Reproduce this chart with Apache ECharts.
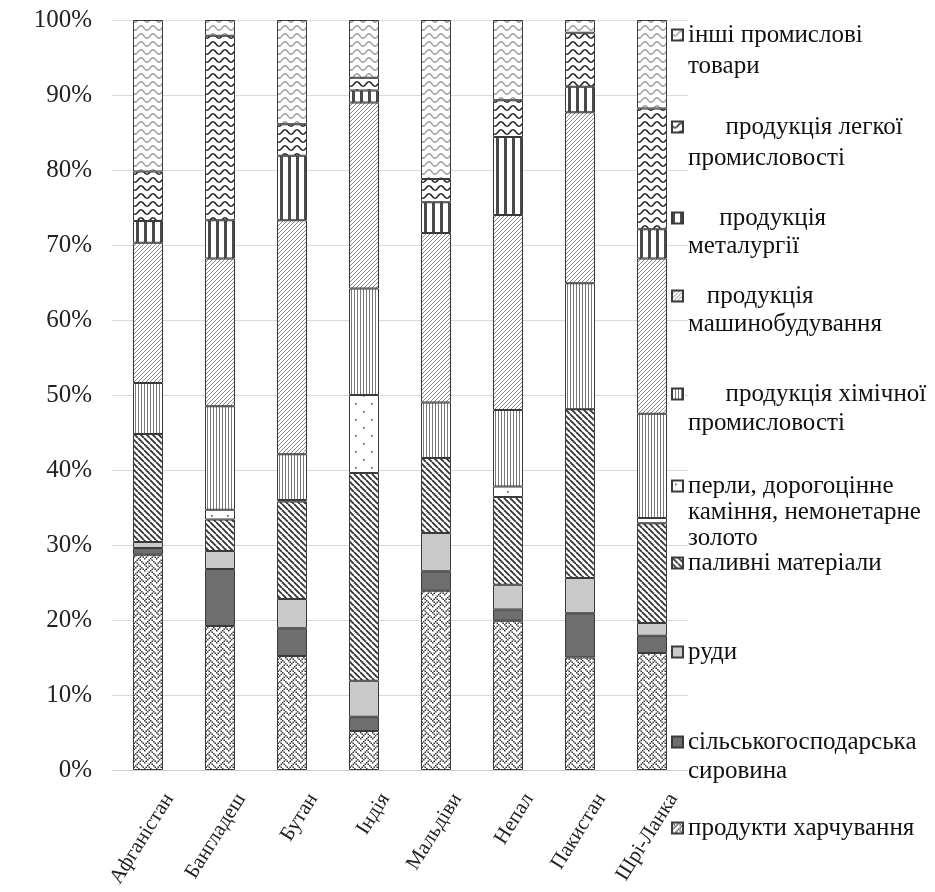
<!DOCTYPE html>
<html><head><meta charset="utf-8">
<script src="https://cdn.jsdelivr.net/npm/echarts@6/dist/echarts.min.js"></script>
<style>html,body{margin:0;padding:0;background:#fff}#c{width:935px;height:892px}</style>
</head><body><div id="c"></div>
<script>
// ---- data ----
const categories = ['Афганістан','Бангладеш','Бутан','Індія','Мальдіви','Непал','Пакистан','Шрі-Ланка'];
const food      = [28.7,19.2,15.2, 5.2,23.9,19.9,15.0,15.6];
const agri      = [ 0.9, 7.6, 3.7, 1.9, 2.6, 1.5, 5.9, 2.3];
const ores      = [ 0.8, 2.4, 3.9, 4.8, 5.1, 3.3, 4.7, 1.7];
const fuel      = [14.4, 4.2,13.0,27.7,10.0,11.7,22.5,13.3];
const pearls    = [ 0.0, 1.3, 0.2,10.4, 0.0, 1.4, 0.0, 0.7];
const chem      = [ 6.8,13.8, 6.1,14.2, 7.4,10.2,16.8,13.9];
const machinery = [18.7,19.7,31.2,24.8,22.6,26.0,22.8,20.7];
const metal     = [ 2.9, 5.1, 8.6, 1.6, 4.1,10.4, 3.4, 3.9];
const lightInd  = [ 6.6,24.6, 4.2, 1.7, 3.1, 4.9, 7.2,16.1];
const other     = [20.2, 2.1,13.9, 7.7,21.2,10.7, 1.7,11.8];
const seriesNames = [
  'продукти харчування',
  'сільськогосподарська сировина',
  'руди',
  'паливні матеріали',
  'перли, дорогоцінне каміння, немонетарне золото',
  'продукція хімічної промисловості',
  'продукція машинобудування',
  'продукція металургії',
  'продукція легкої промисловості',
  'інші промислові товари'
];
const legendLabels = [
  'продукти харчування',
  'сільськогосподарська\nсировина',
  'руди',
  'паливні матеріали',
  'перли, дорогоцінне\nкаміння, немонетарне\nзолото',
  '      продукція хімічної\nпромисловості',
  '   продукція\nмашинобудування',
  '     продукція\nметалургії',
  '      продукція легкої\nпромисловості',
  'інші промислові\nтовари'
];
const seriesValues = [food, agri, ores, fuel, pearls, chem, machinery, metal, lightInd, other];
const yMin = 0, yMax = 100, yStep = 10;

// ---- pattern fills (styles) ----
function pat(w, h, draw) {
  const c = document.createElement('canvas'); c.width = w; c.height = h;
  const g = c.getContext('2d'); g.fillStyle = '#fff'; g.fillRect(0, 0, w, h);
  draw(g, w, h);
  return { image: c, repeat: 'repeat' };
}
function solid(col) { return pat(4, 4, (g, w, h) => { g.fillStyle = col; g.fillRect(0, 0, w, h); }); }
function bits(rows, s, col) {
  return pat(8 * s, 8 * s, (g) => {
    g.fillStyle = col;
    rows.forEach((r, y) => { for (let x = 0; x < 8; x++) if (r & (0x80 >> x)) g.fillRect(x * s, y * s, s, s); });
  });
}
function diag(size, lw, col, down) {
  return pat(size, size, (g, w, h) => {
    g.strokeStyle = col; g.lineWidth = lw; g.beginPath();
    for (let k = -1; k <= 1; k++) {
      if (down) { g.moveTo(k * w, 0); g.lineTo(k * w + w, h); }
      else { g.moveTo(k * w, h); g.lineTo(k * w + w, 0); }
    }
    g.stroke();
  });
}
function vert(size, lw, col) {
  return pat(size, 4, (g, w, h) => { g.fillStyle = col; g.fillRect(0, 0, lw, h); });
}
function wave(w, h, amp, lw, col) {
  return pat(w, h, (g) => {
    g.strokeStyle = col; g.lineWidth = lw; g.beginPath();
    for (let x = -1; x <= w + 1; x += 0.5) {
      const y = h / 2 + amp * Math.sin(2 * Math.PI * x / w);
      if (x === -1) g.moveTo(x, y); else g.lineTo(x, y);
    }
    g.stroke();
  });
}
function dots() {
  return pat(16, 16, (g) => { g.fillStyle = '#555'; g.fillRect(3, 3, 1.6, 1.6); g.fillRect(11, 11, 1.6, 1.6); });
}
const fills = [
  bits([0x88, 0x54, 0x22, 0x45, 0x88, 0x14, 0x22, 0x51], 1.5, '#3c3c3c'),
  solid('#6e6e6e'),
  solid('#cacaca'),
  diag(6, 1.8, '#333', true),
  dots(),
  vert(3, 1, '#7a7a7a'),
  diag(4, 1, '#8a8a8a', false),
  vert(8, 3, '#4a4a4a'),
  wave(12, 8, 2.2, 1.5, '#222'),
  wave(12, 8, 2.2, 1.2, '#8a8a8a')
];

// ---- legend layout ----
const legendRowY = [828, 742, 652, 563, 486, 394, 296, 218, 127, 35];
const legendLH   = [29, 29, 29, 29, 26, 29, 28, 28, 31, 31];
const ICON = 11;
const FONT = "'Liberation Serif', 'Times New Roman', 'DejaVu Serif', serif";

const series = seriesNames.map((name, i) => ({
  name, type: 'bar', stack: 'total', barWidth: 30,
  data: seriesValues[i],
  itemStyle: { color: fills[i], borderColor: '#3a3a3a', borderWidth: 1 },
  emphasis: { disabled: true }
}));

const legends = seriesNames.map((name, i) => {
  const n = legendLabels[i].split('\n').length;
  const LH = legendLH[i];
  const h = ICON + (n - 1) * LH;
  const icon = n === 1 ? 'rect'
    : 'path://M0,0L' + ICON + ',0L' + ICON + ',' + ICON + 'L0,' + ICON + 'Z M0,' + h + 'L0,' + h;
  return {
    data: [name], orient: 'vertical', left: 671, top: legendRowY[i] - LH / 2,
    padding: 0, icon, itemWidth: ICON, itemHeight: h, selectedMode: false,
    formatter: () => legendLabels[i],
    textStyle: { fontFamily: FONT, fontSize: 25, color: '#111', lineHeight: LH }
  };
});

const chart = echarts.init(document.getElementById('c'), null, { renderer: 'canvas' });
chart.setOption({
  animation: false,
  backgroundColor: '#fff',
  textStyle: { fontFamily: FONT },
  grid: { left: 112, right: 247, top: 20, bottom: 122, containLabel: false, outerBoundsMode: 'none' },
  legend: legends,
  xAxis: {
    type: 'category', data: categories,
    axisLine: { show: true, lineStyle: { color: '#d0d0d0', width: 1 } },
    axisTick: { show: false },
    axisLabel: { interval: 0, rotate: 58, margin: 12, verticalAlign: 'top', lineHeight: 50,
      fontFamily: FONT, fontSize: 21, color: '#222' }
  },
  yAxis: {
    type: 'value', min: yMin, max: yMax, interval: yStep,
    axisLine: { show: false }, axisTick: { show: false },
    splitLine: { lineStyle: { color: '#d9d9d9', width: 1 } },
    axisLabel: { formatter: '{value}%', margin: 20, fontFamily: FONT, fontSize: 25, color: '#222' }
  },
  series
});
</script>
</body></html>
